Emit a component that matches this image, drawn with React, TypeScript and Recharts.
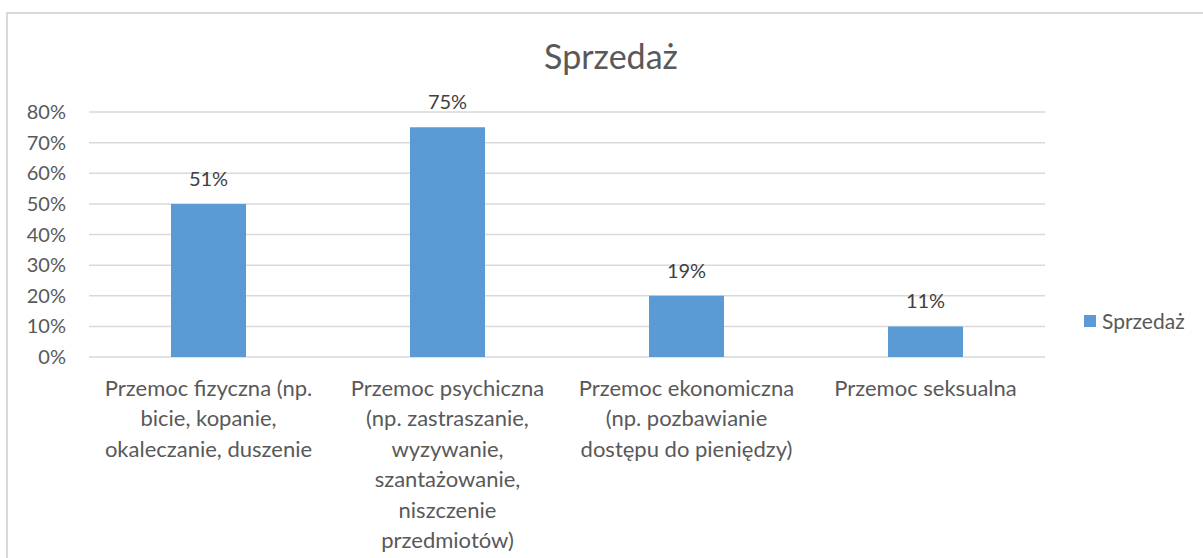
import React from "react";
import { Bar, BarChart, CartesianGrid, LabelList, XAxis, YAxis } from "recharts";

const categories = [
  "Przemoc fizyczna (np.\nbicie, kopanie,\nokaleczanie, duszenie",
  "Przemoc psychiczna\n(np. zastraszanie,\nwyzywanie,\nszantażowanie,\nniszczenie\nprzedmiotów)",
  "Przemoc ekonomiczna\n(np. pozbawianie\ndostępu do pieniędzy)",
  "Przemoc seksualna",
];
const values = [0.5, 0.75, 0.2, 0.1];
const valueLabels = ["51%", "75%", "19%", "11%"];
const yTicks = [0, 0.1, 0.2, 0.3, 0.4, 0.5, 0.6, 0.7, 0.8];
const seriesName = "Sprzedaż";

const data = categories.map((name, i) => ({
  name,
  value: values[i],
  label: valueLabels[i],
}));

const FONT = "Lato, 'Open Sans', sans-serif";
const BLUE = "#5B9BD5";

const CategoryTick = (props: any) => {
  const { x, y, payload } = props;
  const lines = String(payload.value).split("\n");
  return (
    <text
      x={x}
      y={y}
      textAnchor="middle"
      fill="#595959"
      fontSize={22}
      fontFamily={FONT}
    >
      {lines.map((line, i) => (
        <tspan key={i} x={x} dy={i === 0 ? 31 : 30.4}>
          {line}
        </tspan>
      ))}
    </text>
  );
};

const App: React.FC = () => {
  return (
    <div
      style={{
        position: "absolute",
        left: 0,
        top: 0,
        width: 1203,
        height: 558,
        overflow: "hidden",
        background: "#fff",
        fontFamily: FONT,
      }}
    >
      <div
        style={{
          position: "absolute",
          left: 6,
          top: 12,
          width: 1260,
          height: 600,
          border: "2px solid #D9D9D9",
        }}
      />
      <div
        style={{
          position: "absolute",
          left: 0,
          width: 1222,
          top: 35,
          textAlign: "center",
          fontSize: 34,
          color: "#595959",
        }}
      >
        {seriesName}
      </div>
      <BarChart
        width={1203}
        height={558}
        data={data}
        margin={{ top: 112, right: 158, bottom: 171, left: 0 }}
        style={{ position: "absolute", left: 0, top: 0 }}
      >
        <CartesianGrid vertical={false} stroke="#D9D9D9" strokeWidth={1.5} />
        <XAxis
          dataKey="name"
          height={30}
          axisLine={false}
          tickLine={false}
          interval={0}
          tick={<CategoryTick />}
        />
        <YAxis
          width={89}
          domain={[0, 0.8]}
          ticks={yTicks}
          axisLine={false}
          tickLine={false}
          tickSize={0}
          tickMargin={23}
          tickFormatter={(v: number) => `${Math.round(v * 100)}%`}
          tick={{ fill: "#595959", fontSize: 20, fontFamily: FONT }}
        />
        <Bar dataKey="value" fill={BLUE} barSize={75} isAnimationActive={false}>
          <LabelList
            dataKey="label"
            position="top"
            offset={18}
            fill="#404040"
            fontSize={20}
            fontFamily={FONT}
          />
        </Bar>
      </BarChart>
      <div
        style={{
          position: "absolute",
          left: 1084,
          top: 308,
          display: "flex",
          alignItems: "center",
          fontSize: 21,
          color: "#595959",
        }}
      >
        <span
          style={{
            display: "inline-block",
            width: 12,
            height: 12,
            background: BLUE,
            marginRight: 6,
          }}
        />
        {seriesName}
      </div>
    </div>
  );
};

export default App;
